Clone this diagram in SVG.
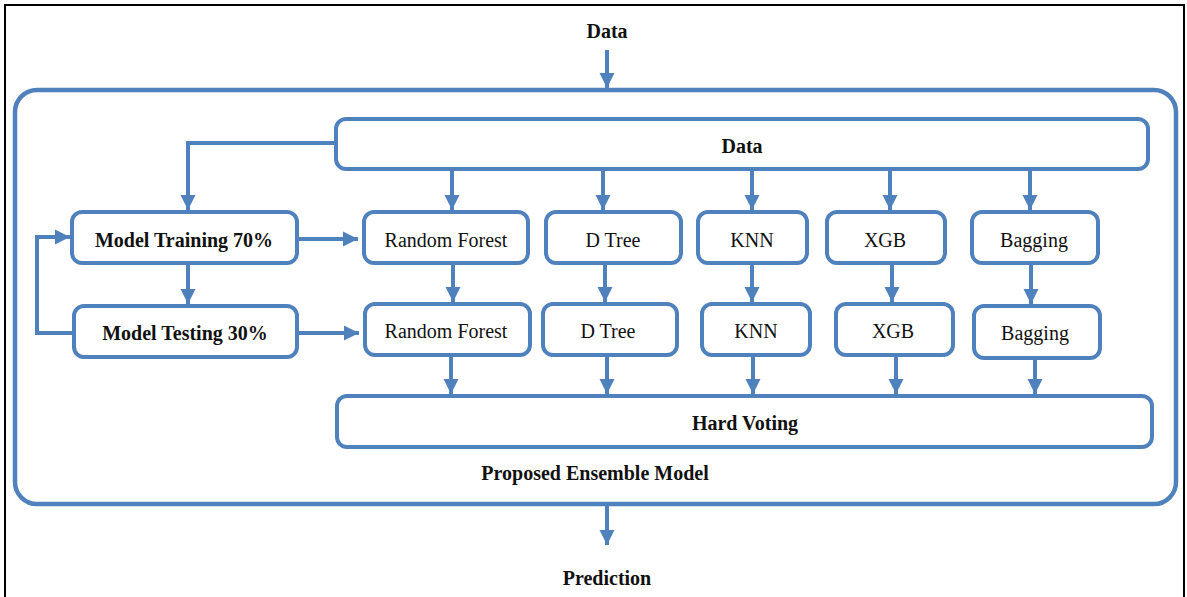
<svg xmlns="http://www.w3.org/2000/svg" width="1187" height="597" viewBox="0 0 1187 597">
<style>
.box{fill:#fff;stroke:#4F81BD;stroke-width:4}
.con{fill:none;stroke:#4F81BD;stroke-width:4}
.t{font-family:"Liberation Serif","Times New Roman",serif;font-size:20px;fill:#111;text-anchor:middle;dominant-baseline:central}
.b{font-weight:bold}
</style>
<defs>
<marker id="ah" markerUnits="userSpaceOnUse" markerWidth="16" markerHeight="16" refX="15" refY="8" orient="auto">
<path d="M0,0.5 L15,8 L0,15.5 z" fill="#4F81BD"/>
</marker>
</defs>
<rect x="0" y="0" width="1187" height="597" fill="#fff"/>
<rect x="5" y="5" width="1179" height="620" fill="none" stroke="#000" stroke-width="2"/>
<g id="container"><rect x="15" y="90" width="1161" height="414" rx="22" fill="none" stroke="#4F81BD" stroke-width="4.5"/>
<text class="t b" x="595" y="473">Proposed Ensemble Model</text></g>
<g id="data-in"><text class="t b" x="607" y="31">Data</text></g>
<g id="prediction"><text class="t b" x="607" y="578">Prediction</text></g>
<g id="data"><rect class="box" x="336" y="119" width="812" height="50" rx="10"/><text class="t b" x="742" y="146">Data</text></g>
<g id="train"><rect class="box" x="72" y="212" width="225" height="51" rx="10"/><text class="t b" x="184" y="240">Model Training 70%</text></g>
<g id="test"><rect class="box" x="74" y="306" width="223" height="51" rx="10"/><text class="t b" x="185" y="333">Model Testing 30%</text></g>
<g id="rf1"><rect class="box" x="364" y="212" width="164" height="51" rx="10"/><text class="t" x="446" y="240">Random Forest</text></g>
<g id="dt1"><rect class="box" x="546" y="212" width="135" height="51" rx="10"/><text class="t" x="613" y="240">D Tree</text></g>
<g id="knn1"><rect class="box" x="698" y="212" width="109" height="51" rx="10"/><text class="t" x="752" y="240">KNN</text></g>
<g id="xgb1"><rect class="box" x="827" y="212" width="118" height="51" rx="10"/><text class="t" x="885" y="240">XGB</text></g>
<g id="bag1"><rect class="box" x="972" y="212" width="126" height="51" rx="10"/><text class="t" x="1034" y="240">Bagging</text></g>
<g id="rf2"><rect class="box" x="365" y="304" width="165" height="51" rx="10"/><text class="t" x="446" y="331">Random Forest</text></g>
<g id="dt2"><rect class="box" x="543" y="304" width="134" height="51" rx="10"/><text class="t" x="608" y="331">D Tree</text></g>
<g id="knn2"><rect class="box" x="702" y="304" width="108" height="51" rx="10"/><text class="t" x="756" y="331">KNN</text></g>
<g id="xgb2"><rect class="box" x="836" y="304" width="117" height="51" rx="10"/><text class="t" x="893" y="331">XGB</text></g>
<g id="bag2"><rect class="box" x="974" y="306" width="126" height="52" rx="10"/><text class="t" x="1035" y="333">Bagging</text></g>
<g id="vote"><rect class="box" x="337" y="396" width="815" height="51" rx="10"/><text class="t b" x="745" y="423">Hard Voting</text></g>
<g id="connectors">
<path class="con" d="M607,50 V88" marker-end="url(#ah)"/>
<path class="con" d="M607,506 V545" marker-end="url(#ah)"/>
<path class="con" d="M336,143 H188 V210" marker-end="url(#ah)"/>
<path class="con" d="M188,263 V304" marker-end="url(#ah)"/>
<path class="con" d="M74,333 H37 V237 H70" marker-end="url(#ah)"/>
<path class="con" d="M297,239 H358" marker-end="url(#ah)"/>
<path class="con" d="M297,333 H359" marker-end="url(#ah)"/>
<path class="con" d="M452,169 V210" marker-end="url(#ah)"/>
<path class="con" d="M603,169 V210" marker-end="url(#ah)"/>
<path class="con" d="M752,169 V210" marker-end="url(#ah)"/>
<path class="con" d="M890,169 V210" marker-end="url(#ah)"/>
<path class="con" d="M1030,169 V210" marker-end="url(#ah)"/>
<path class="con" d="M453,263 V302" marker-end="url(#ah)"/>
<path class="con" d="M605,263 V302" marker-end="url(#ah)"/>
<path class="con" d="M752,263 V302" marker-end="url(#ah)"/>
<path class="con" d="M892,263 V302" marker-end="url(#ah)"/>
<path class="con" d="M1031,263 V304" marker-end="url(#ah)"/>
<path class="con" d="M451,355 V394" marker-end="url(#ah)"/>
<path class="con" d="M607,355 V394" marker-end="url(#ah)"/>
<path class="con" d="M753,355 V394" marker-end="url(#ah)"/>
<path class="con" d="M896,355 V394" marker-end="url(#ah)"/>
<path class="con" d="M1035,358 V394" marker-end="url(#ah)"/>
</g>
</svg>
